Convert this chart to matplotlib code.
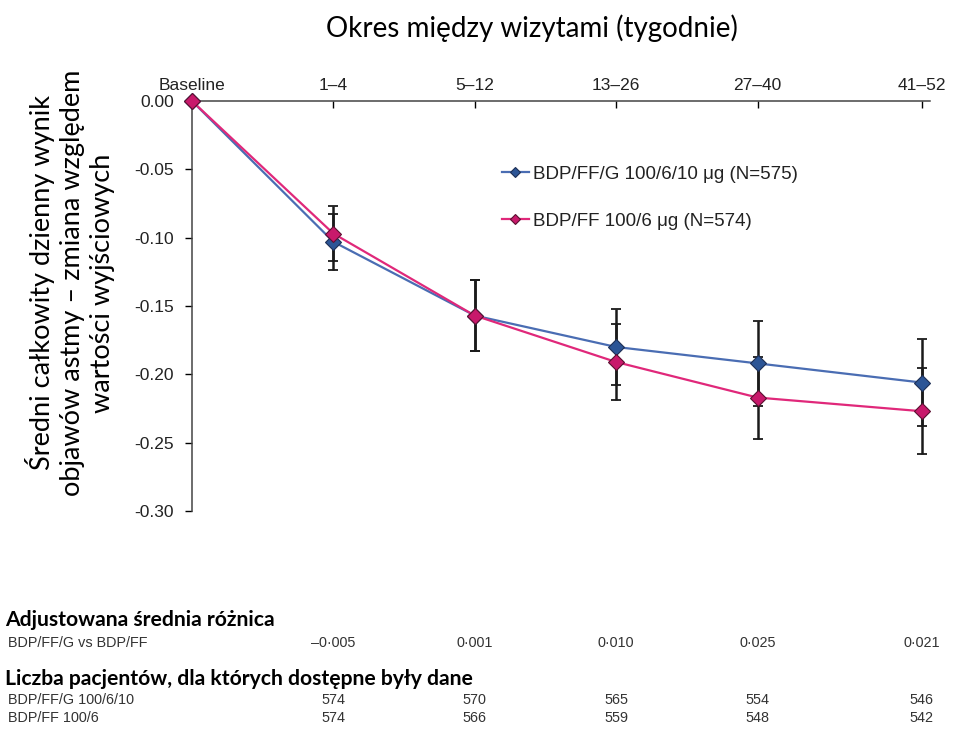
import numpy as np
import matplotlib.pyplot as plt
from matplotlib.transforms import blended_transform_factory

# dane
periods = ['Baseline', '1–4', '5–12', '13–26', '27–40', '41–52']
x_pos = [0, 1, 2, 3, 4, 5.16]

triple = [0.0, -0.103, -0.157, -0.180, -0.192, -0.206]
triple_err = [0.0, 0.0205, 0.026, 0.028, 0.031, 0.0315]
dual = [0.0, -0.097, -0.157, -0.191, -0.217, -0.227]
dual_err = [0.0, 0.020, 0.026, 0.028, 0.030, 0.0315]

diff_labels = ['–0·005', '0·001', '0·010', '0·025', '0·021']
n_triple = [574, 570, 565, 554, 546]
n_dual = [574, 566, 559, 548, 542]

BLUE_LINE = '#4a6db3'
BLUE_MK = '#2c5596'
PINK_LINE = '#e0287a'
PINK_MK = '#c8196b'


def RUN():
    fig = plt.figure(figsize=(9.57, 7.31), dpi=100)
    ax = fig.add_axes([0.2006, 0.3010, 0.7712, 0.5608])

    ax.errorbar(x_pos[1:], triple[1:], yerr=triple_err[1:], fmt='none',
                ecolor='#1a1a1a', elinewidth=1.8, capsize=3.5, capthick=1.3, zorder=2)
    ax.errorbar(x_pos[1:], dual[1:], yerr=dual_err[1:], fmt='none',
                ecolor='#1a1a1a', elinewidth=1.8, capsize=3.5, capthick=1.3, zorder=2)

    ax.plot(x_pos, triple, color=BLUE_LINE, lw=1.6, marker='D', ms=8,
            mfc=BLUE_MK, mec='#1d2f55', mew=0.8, clip_on=False, zorder=3,
            label='BDP/FF/G 100/6/10 μg (N=575)')
    ax.plot(x_pos, dual, color=PINK_LINE, lw=1.6, marker='D', ms=8,
            mfc=PINK_MK, mec='#5a1030', mew=0.8, clip_on=False, zorder=4,
            label='BDP/FF 100/6 μg (N=574)')

    ax.set_xlim(0, 5.22)
    ax.set_ylim(-0.30, 0.0)
    yt = [-0.30, -0.25, -0.20, -0.15, -0.10, -0.05, 0.0]
    ax.set_yticks(yt)
    ax.set_yticklabels(['-0.30', '-0.25', '-0.20', '-0.15', '-0.10', '-0.05', '0.00'])
    ax.set_xticks(x_pos)
    ax.set_xticklabels(periods)
    ax.xaxis.tick_top()
    ax.tick_params(axis='x', direction='in', length=5, width=1, pad=6,
                   labelsize=12.5)
    ax.tick_params(axis='y', direction='out', length=5, width=1, pad=8,
                   labelsize=12.5)
    for lab in ax.get_xticklabels() + ax.get_yticklabels():
        lab.set_family('Liberation Sans')
        lab.set_color('#222222')

    ax.spines['bottom'].set_visible(False)
    ax.spines['right'].set_visible(False)
    ax.spines['top'].set_color('#444444')
    ax.spines['left'].set_color('#444444')
    ax.spines['top'].set_linewidth(1.1)
    ax.spines['left'].set_linewidth(1.1)

    leg = ax.legend(loc='upper left', bbox_to_anchor=(0.397, 0.884), frameon=False,
                    handlelength=1.45, handletextpad=0.2, labelspacing=1.6,
                    markerscale=0.7,
                    prop={'family': 'Liberation Sans', 'size': 13.5})
    for t in leg.get_texts():
        t.set_color('#222222')

    fig.text(0.556, 0.962, 'Okres między wizytami (tygodnie)', ha='center', va='center',
             fontsize=20, family='Lato')
    fig.text(0.073, 0.613,
             'Średni całkowity dzienny wynik\nobjawów astmy – zmiana względem\nwartości wyjściowych',
             rotation=90, ha='center', va='center', fontsize=19.5, family='Lato',
             linespacing=1.25)

    tr = blended_transform_factory(ax.transData, fig.transFigure)

    def yf(py):
        return 1 - py / 731.0

    fig.text(0.005, yf(620), 'Adjustowana średnia różnica', fontsize=15.2,
             fontweight='bold', family='Lato', va='center')
    fig.text(0.008, yf(643), 'BDP/FF/G vs BDP/FF', fontsize=10.4,
             family='Liberation Sans', color='#333333', va='center')
    fig.text(0.005, yf(679), 'Liczba pacjentów, dla których dostępne były dane',
             fontsize=15.2, fontweight='bold', family='Lato', va='center')
    fig.text(0.008, yf(700), 'BDP/FF/G 100/6/10', fontsize=10.4,
             family='Liberation Sans', color='#333333', va='center')
    fig.text(0.008, yf(718), 'BDP/FF 100/6', fontsize=10.4,
             family='Liberation Sans', color='#333333', va='center')

    for i in range(5):
        xx = x_pos[i + 1]
        ax.text(xx, yf(643), diff_labels[i], transform=tr, ha='center', va='center',
                fontsize=10.4, family='Liberation Sans', color='#333333')
        ax.text(xx, yf(700), str(n_triple[i]), transform=tr, ha='center', va='center',
                fontsize=10.4, family='Liberation Sans', color='#333333')
        ax.text(xx, yf(718), str(n_dual[i]), transform=tr, ha='center', va='center',
                fontsize=10.4, family='Liberation Sans', color='#333333')

    fig.savefig('out.png', dpi=100)


if __name__ == "__main__":
    RUN()
